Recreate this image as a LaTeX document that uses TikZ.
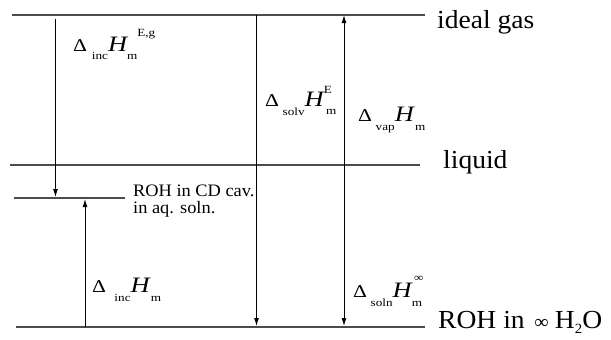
\documentclass[tikz,border=0pt]{standalone}
\usepackage{fontspec}
\setmainfont{Liberation Serif}
\usetikzlibrary{arrows.meta}
\newcommand\fs[1]{\fontsize{#1}{#1}\selectfont}
% Delta-H label: #1 = gap, #2 = process subscript, #3 = material after H
\newcommand\dHlbl[3]{\scalebox{1.2}[1]{{\fs{18}Δ}\hspace{#1}\raisebox{-9pt}{\fs{11}#2}{\fs{22}\itshape H}#3}}
\newcommand\wid[1]{\scalebox{1.06}[1]{#1}}
\begin{document}
\begin{tikzpicture}[x=1pt,y=-1pt,
  level/.style={line width=1.3pt,draw=black!70},
  conn/.style={line width=1pt,draw=black,-{Latex[length=8pt,width=5pt]}},
  state/.style={inner sep=0pt,anchor=base west,font=\fs{26}},
  qty/.style={inner sep=0pt,anchor=base west},
  small/.style={inner sep=0pt,anchor=base west,align=left,font=\fs{17.5}}]
\useasboundingbox (0,0) rectangle (611,340);
% energy levels
\coordinate (gL) at (12,15);   \coordinate (gR) at (425,15);
\coordinate (lL) at (10,165);  \coordinate (lR) at (420,165);
\coordinate (cL) at (14,198);  \coordinate (cR) at (125,198);
\coordinate (sL) at (16,327);  \coordinate (sR) at (425,327);
\draw[level] (gL) -- (gR);
\draw[level] (lL) -- (lR);
\draw[level] (cL) -- (cR);
\draw[level] (sL) -- (sR);
% arrow end points
\coordinate (a1s) at (55.5,19);  \coordinate (a1e) at (55.5,197);
\coordinate (a2s) at (256.5,15); \coordinate (a2e) at (256.5,326);
\coordinate (a3s) at (344,165);  \coordinate (a3e) at (344,15);
\coordinate (a4e) at (344,326);
\coordinate (a5s) at (85,327);   \coordinate (a5e) at (85,199);
\draw[conn] (a1s) -- (a1e);
\draw[conn] (a2s) -- (a2e);
\draw[conn] (a3s) -- (a3e);
\draw[conn] (a3s) -- (a4e);
\draw[conn] (a5s) -- (a5e);
% state labels
\node[state] (gas) at (437,28) {\wid{ideal gas}};
\node[state] (liq) at (443,168) {\wid{liquid}};
\node[state] (sol) at (438,328) {\wid{ROH in\hspace{9pt}{\fs{19}∞}\hspace{6pt}H\raisebox{-5pt}{\fs{14}2}O}};
\node[small] (cav) at (133,213) {\scalebox{1.05}[1]{ROH in CD cav.}\\[-0.5pt]\scalebox{1.05}[1]{in aq. soln.}};
% quantity labels
\node[qty] (q1) at (73,51) {\dHlbl{4pt}{inc}{\raisebox{-9pt}{\fs{11}m}\raisebox{15pt}{\fs{11}E,g}}};
\node[qty] (q2) at (265,106) {\dHlbl{3pt}{solv}{\raisebox{13pt}{\rlap{\fs{11}E}}\hspace{2pt}\raisebox{-8pt}{\fs{11}m}}};
\node[qty] (q3) at (358,121) {\dHlbl{3pt}{vap}{\hspace{1pt}\raisebox{-9pt}{\fs{11}m}}};
\node[qty] (q4) at (353,297) {\dHlbl{3pt}{soln}{\raisebox{-9pt}{\rlap{\fs{11}m}}\hspace{2pt}\raisebox{16pt}{\fs{11}∞}}};
\node[qty] (q5) at (92,292) {\dHlbl{7pt}{inc}{\hspace{1pt}\raisebox{-9pt}{\fs{11}m}}};
\end{tikzpicture}
\end{document}
